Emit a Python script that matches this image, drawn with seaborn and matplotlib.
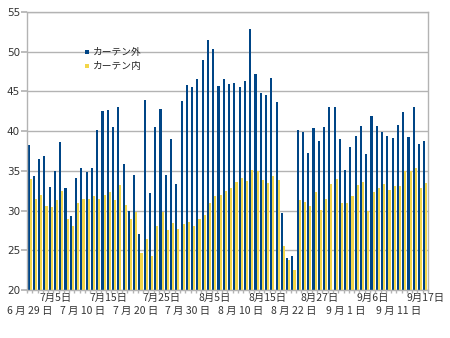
import matplotlib
matplotlib.use("Agg")
import matplotlib.pyplot as plt
import matplotlib.transforms as mtransforms
import seaborn as sns
import pandas as pd
from matplotlib.lines import Line2D

sns.set_theme(style="white")
plt.rcParams['font.family'] = ['Noto Sans CJK JP', 'DejaVu Sans']

# Date categories (76 days; 5 days have no record)
all_days = pd.date_range("2012-06-29", "2012-09-17")
missing = pd.to_datetime(["2012-07-01", "2012-08-01", "2012-08-17", "2012-08-18", "2012-09-14"])
days = [d for d in all_days if d not in missing]
dates = [f"{d.month}月{d.day}日" for d in days]

outside = [38.2, 34.3, 36.5, 36.9, 33.0, 35.0, 38.6, 32.8, 29.3, 34.1,
           35.3, 34.9, 35.3, 40.2, 42.5, 42.7, 40.5, 43.0, 35.9, 30.0,
           34.5, 27.1, 43.9, 32.2, 40.5, 42.8, 34.5, 39.0, 33.3, 43.8,
           45.8, 45.5, 46.6, 49.0, 51.5, 50.3, 45.7, 46.6, 45.9, 46.0,
           45.5, 46.3, 52.8, 47.2, 44.8, 44.6, 46.7, 43.7, 29.7, 24.0,
           24.3, 40.1, 39.9, 37.3, 40.4, 38.7, 40.5, 43.0, 43.1, 39.0,
           35.1, 38.0, 39.4, 40.7, 37.1, 41.9, 40.6, 39.9, 39.4, 39.1,
           40.8, 42.4, 39.3, 43.0, 38.4, 38.7]
inside = [34.0, 31.5, 32.0, 30.6, 30.4, 31.3, 32.5, 28.9, 28.0, 30.9,
          31.5, 31.4, 31.8, 31.4, 32.0, 32.3, 31.3, 33.2, 30.7, 28.9,
          29.8, 24.7, 26.4, 24.3, 28.0, 29.8, 27.5, 28.4, 27.7, 28.3,
          28.5, 28.0, 29.0, 29.5, 31.0, 31.8, 32.0, 32.5, 32.8, 33.6,
          34.1, 33.7, 35.1, 35.0, 33.9, 33.5, 34.4, 33.9, 25.5, 23.8,
          22.5, 31.3, 31.1, 30.6, 32.4, 30.1, 31.5, 33.3, 34.0, 30.9,
          31.0, 31.8, 33.2, 33.6, 30.0, 32.3, 32.9, 33.4, 32.6, 33.1,
          33.1, 35.0, 35.0, 35.4, 32.8, 33.5]
series = ["カーテン外", "カーテン内"]
colors = ["#004586", "#f3d64a"]

df = pd.DataFrame({
    "date": dates * 2,
    "value": outside + inside,
    "series": [series[0]] * len(dates) + [series[1]] * len(dates),
})

fig = plt.figure(figsize=(4.5, 3.38), dpi=100)
ax_h = 290 - 12
ax = fig.add_axes([27 / 450, 1 - 290 / 338, (428 - 27) / 450, ax_h / 338])

sns.barplot(data=df, x="date", y="value", hue="series", order=dates,
            hue_order=series, palette=colors, saturation=1, errorbar=None,
            width=0.8, linewidth=0, ax=ax, legend=False)

ax.set_ylim(20, 55)
ax.set_yticks(range(20, 56, 5))
ax.set_xlim(-0.5, len(dates) - 0.5)
ax.yaxis.grid(True, color="#b3b3b3", linewidth=1)
ax.set_axisbelow(True)
for s in ax.spines.values():
    s.set_color("#b3b3b3")
    s.set_linewidth(1)

# Staggered category labels: odd groups on the first row, even groups on the second
top_ticks = list(range(5, len(dates), 10))
bottom_ticks = list(range(0, len(dates), 10))
ax.set_xticks(top_ticks)
ax.set_xticklabels([dates[i] for i in top_ticks], fontsize=7.5, color="#333333")
trans = mtransforms.blended_transform_factory(ax.transData, ax.transAxes)
for i in bottom_ticks:
    d = days[i]
    ax.text(i, -21 / ax_h, f"{d.month} 月 {d.day} 日", transform=trans,
            ha="center", va="center", fontsize=7.5, color="#333333")
ax.set_xticks([i - 0.5 for i in range(len(dates) + 1)], minor=True)
ax.tick_params(axis="x", which="major", length=0, pad=2)
ax.tick_params(axis="x", which="minor", length=2, color="#b3b3b3", bottom=True)
ax.tick_params(axis="y", length=4, color="#b3b3b3", labelsize=7.5,
               labelcolor="#333333", pad=1, left=True)
for t in ax.get_yticklabels():
    t.set_family("DejaVu Sans")
ax.set_xlabel("")
ax.set_ylabel("")

handles = [Line2D([], [], marker="s", linestyle="", markersize=3.5,
                  markerfacecolor=c, markeredgewidth=0) for c in colors]
fig.legend(handles, series, loc="upper left", bbox_to_anchor=(84 / 450, 1 - 47 / 338),
           frameon=False, fontsize=7, handlelength=0.6, handletextpad=0.3,
           labelspacing=0.45, borderaxespad=0, borderpad=0)

fig.savefig("out.png", dpi=100)
